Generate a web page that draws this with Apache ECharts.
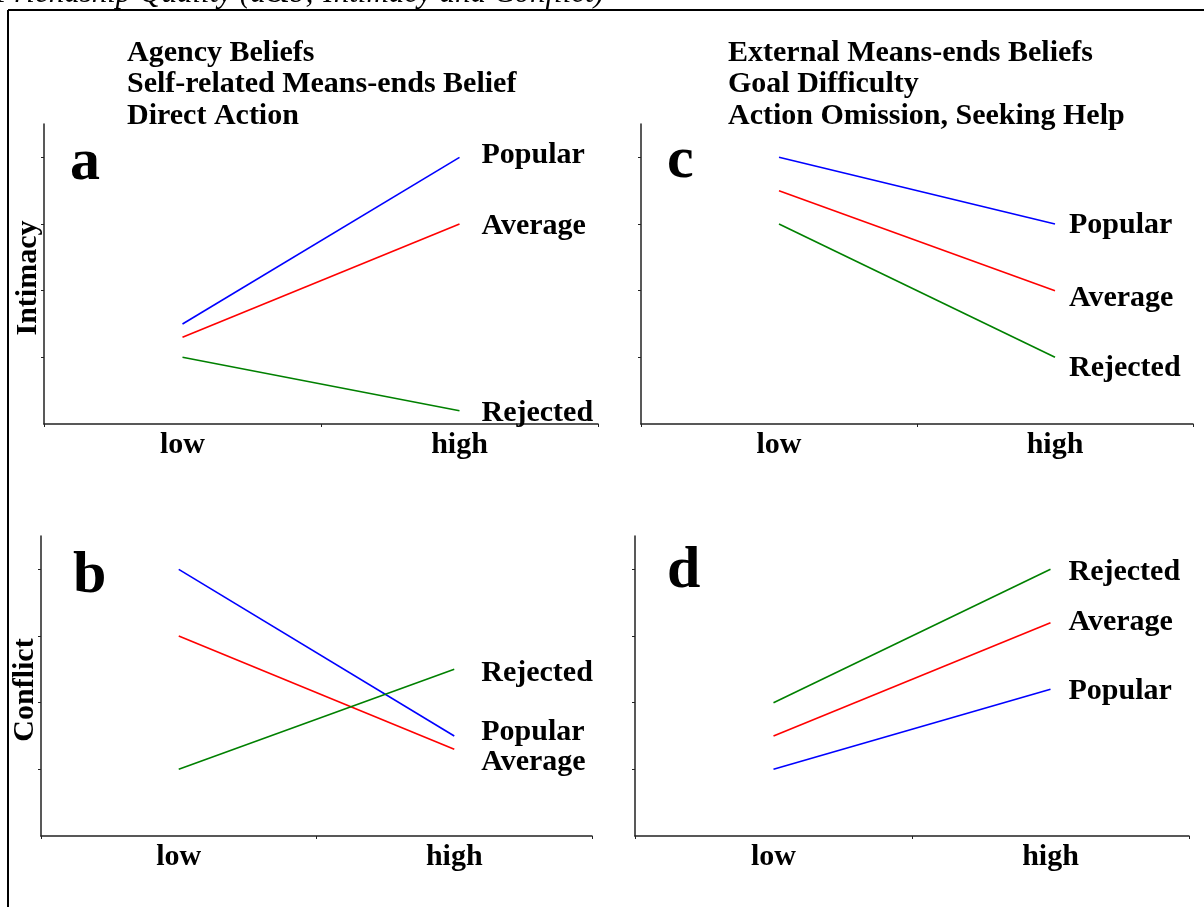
<!DOCTYPE html>
<html>
<head>
<meta charset="utf-8">
<script src="https://cdn.jsdelivr.net/npm/echarts@6/dist/echarts.min.js"></script>
<style>
html,body{margin:0;padding:0;background:#fff;}
#chart{width:1204px;height:907px;}
</style>
</head>
<body>
<div id="chart"></div>
<script>
const categories = ['low', 'high'];
const groupNames = ['Popular', 'Average', 'Rejected'];
const groupColors = ['#0000ff', '#ff0000', '#008000'];

// panel a: Intimacy, Agency beliefs
const aPopular = [1.5, 4.0];
const aAverage = [1.3, 3.0];
const aRejected = [1.0, 0.2];
// panel b: Conflict, Agency beliefs
const bPopular = [4.0, 1.5];
const bAverage = [3.0, 1.3];
const bRejected = [1.0, 2.5];
// panel c: Intimacy, External means-ends beliefs
const cPopular = [4.0, 3.0];
const cAverage = [3.5, 2.0];
const cRejected = [3.0, 1.0];
// panel d: Conflict, External means-ends beliefs
const dPopular = [1.0, 2.2];
const dAverage = [1.5, 3.2];
const dRejected = [2.0, 4.0];

const yTicks = [1, 2, 3, 4];
const titleLeft = ['Agency Beliefs', 'Self-related Means-ends Belief', 'Direct Action'];
const titleRight = ['External Means-ends Beliefs', 'Goal Difficulty', 'Action Omission, Seeking Help'];
const panelLetters = ['a', 'b', 'c', 'd'];
const yNames = ['Intimacy', 'Conflict'];
const topNote = 'Friendship Quality (a&b; Intimacy and Conflict)';

const SERIF = '"Liberation Serif","Times New Roman",serif';
const FS = 30;

const panels = [
  {grid: {left: 44, top: 124, width: 554, height: 300}, data: [aPopular, aAverage, aRejected], dist: 22, dy: [-2, 2, 3]},
  {grid: {left: 41, top: 536, width: 551, height: 300}, data: [bPopular, bAverage, bRejected], dist: 27, dy: [-4, 13, 4]},
  {grid: {left: 641, top: 124, width: 552, height: 300}, data: [cPopular, cAverage, cRejected], dist: 14, dy: [1, 8, 11]},
  {grid: {left: 635, top: 536, width: 554, height: 300}, data: [dPopular, dAverage, dRejected], dist: 18, dy: [2, 0, 3]}
];

const axisLine = {show: true, lineStyle: {color: '#222', width: 1.5}};
const grid = [], xAxis = [], yAxis = [], series = [];
panels.forEach((p, i) => {
  grid.push(Object.assign({containLabel: false}, p.grid));
  xAxis.push({
    type: 'category', gridIndex: i, data: categories, boundaryGap: true,
    axisLine: axisLine,
    axisTick: {show: true, length: 3, lineStyle: {color: '#222'}},
    axisLabel: {color: '#000', fontFamily: SERIF, fontWeight: 'bold', fontSize: FS, margin: 6},
    splitLine: {show: false}
  });
  yAxis.push({
    type: 'value', gridIndex: i, min: 0, max: 4.5,
    axisLine: axisLine,
    axisTick: {show: true, length: 3, customValues: yTicks, lineStyle: {color: '#222'}},
    axisLabel: {show: false},
    splitLine: {show: false}
  });
  p.data.forEach((vals, k) => {
    series.push({
      type: 'line', name: groupNames[k], xAxisIndex: i, yAxisIndex: i,
      data: vals, symbol: 'none', silent: true,
      lineStyle: {color: groupColors[k], width: 1.6},
      itemStyle: {color: groupColors[k]},
      endLabel: {
        show: true, formatter: groupNames[k], distance: p.dist, offset: [0, p.dy[k]],
        color: '#000', fontFamily: SERIF, fontWeight: 'bold', fontSize: FS
      }
    });
  });
});

const graphic = [];
// border lines
graphic.push({type: 'line', shape: {x1: 8, y1: 10, x2: 1204, y2: 10}, style: {stroke: '#000', lineWidth: 2}});
graphic.push({type: 'line', shape: {x1: 8, y1: 10, x2: 8, y2: 907}, style: {stroke: '#000', lineWidth: 2}});
// clipped caption
graphic.push({type: 'text', x: 604, y: 9, style: {text: topNote, fill: '#000', font: 'italic 31px ' + SERIF, textAlign: 'right', textVerticalAlign: 'bottom'}});
// titles
const titleY = [53, 84, 116];
titleLeft.forEach((t, j) => graphic.push({type: 'text', x: 127, y: titleY[j], style: {text: t, fill: '#000', font: 'bold ' + FS + 'px ' + SERIF, textAlign: 'left', textVerticalAlign: 'middle'}}));
titleRight.forEach((t, j) => graphic.push({type: 'text', x: 728, y: titleY[j], style: {text: t, fill: '#000', font: 'bold ' + FS + 'px ' + SERIF, textAlign: 'left', textVerticalAlign: 'middle'}}));
// panel letters
const letterPos = [[70, 163], [73, 576], [667, 161], [667, 571]];
panelLetters.forEach((l, j) => graphic.push({type: 'text', x: letterPos[j][0], y: letterPos[j][1], style: {text: l, fill: '#000', font: 'bold 60px ' + SERIF, textAlign: 'left', textVerticalAlign: 'middle'}}));
// y axis names
const yNamePos = [[28, 278], [25, 690]];
yNames.forEach((n, j) => graphic.push({type: 'text', x: yNamePos[j][0], y: yNamePos[j][1], rotation: Math.PI / 2, style: {text: n, fill: '#000', font: 'bold ' + FS + 'px ' + SERIF, textAlign: 'center', textVerticalAlign: 'middle'}}));

const chart = echarts.init(document.getElementById('chart'), null, {renderer: 'canvas'});
chart.setOption({
  animation: false,
  backgroundColor: '#fff',
  grid: grid, xAxis: xAxis, yAxis: yAxis, series: series, graphic: graphic
});
</script>
</body>
</html>
